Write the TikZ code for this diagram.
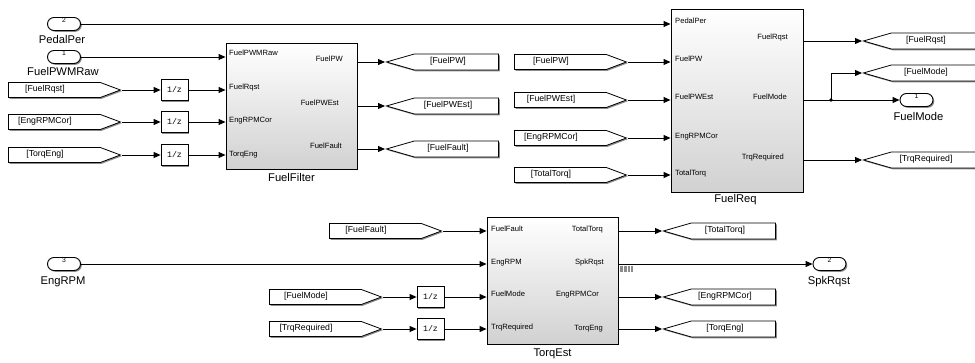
\documentclass[tikz,border=0pt]{standalone}
\usepackage{fontspec}
\setmainfont{Liberation Sans}
\newfontfamily\monofnt{Liberation Mono}
\usetikzlibrary{arrows.meta,shapes.symbols,shadows}
\begin{document}
\begin{tikzpicture}[x=1pt,y=-1pt,
  wire/.style={line width=0.9pt},
  arr/.style={line width=0.9pt, -{Triangle[length=7pt,width=6pt]}},
  shad/.style={drop shadow={shadow xshift=1.3pt,shadow yshift=-1.3pt,opacity=0.6,fill=black!75}},
  inport/.style={draw, line width=0.9pt, fill=white, rounded corners=6.5pt, minimum width=33pt, minimum height=13pt, inner sep=0pt, shad},
  fromblk/.style={signal, signal to=east, signal pointer angle=41, draw, line width=0.8pt, fill=white, minimum width=112pt, minimum height=15pt, inner sep=0pt, shad},
  gotoblk/.style={signal, signal to=west, signal pointer angle=32, draw, line width=0.8pt, fill=white, minimum width=112pt, minimum height=16pt, inner sep=0pt, shad},
  delayblk/.style={draw, line width=0.8pt, fill=white, minimum width=27pt, minimum height=21pt, inner sep=0pt, font=\monofnt\fontsize{8.3}{9}\selectfont, shad},
  subsys/.style={draw, line width=0.9pt, top color=white, bottom color=black!18, inner sep=0pt, shad},
  ptxt/.style={font=\fontsize{7.6}{8}\selectfont, inner sep=0pt, text height=5.4pt, text depth=0pt},
  gtxt/.style={font=\fontsize{8.7}{9}\selectfont, inner sep=0pt, text height=6.2pt, text depth=0pt},
  btxt/.style={font=\fontsize{11.2}{12}\selectfont, inner sep=0pt, text height=8pt, text depth=0pt},
  ntxt/.style={font=\fontsize{6.8}{7}\selectfont, inner sep=0pt, text height=4.9pt, text depth=0pt},
]
\useasboundingbox (0,0) rectangle (975,363);
\clip (0,0) rectangle (975,363);

% ---------- inports / outports
\node[inport] (inPedal) at (64,24) {};
\node[ntxt] (inPedal-n) at (64,20.5) {2};
\node[btxt] (inPedal-l) at (62,39.5) {PedalPer};
\node[inport] (inFPWM) at (64,57) {};
\node[ntxt] (inFPWM-n) at (64,53.5) {1};
\node[btxt] (inFPWM-l) at (63,72) {FuelPWMRaw};
\node[inport] (inEng) at (64,264) {};
\node[ntxt] (inEng-n) at (64,260.5) {3};
\node[btxt] (inEng-l) at (63,280.5) {EngRPM};

\node[inport] (outFM) at (916.5,100) {};
\node[ntxt] (outFM-n) at (916.5,96.5) {1};
\node[btxt] (outFM-l) at (918.5,117) {FuelMode};
\node[inport] (outSpk) at (829.5,264) {};
\node[ntxt] (outSpk-n) at (829.5,260.5) {2};
\node[btxt] (outSpk-l) at (829,281) {SpkRqst};

% ---------- from blocks
\node[fromblk, anchor=west] (fFuelRqst) at (8,90) {};
\node[gtxt] (fFuelRqst-t) at (45,88.5) {[FuelRqst]};
\node[fromblk, anchor=west] (fEngRPMCor1) at (8,122) {};
\node[gtxt] (fEngRPMCor1-t) at (45,120.5) {[EngRPMCor]};
\node[fromblk, anchor=west] (fTorqEng) at (8,155) {};
\node[gtxt] (fTorqEng-t) at (45,153.5) {[TorqEng]};
\node[fromblk, anchor=west] (fFuelPW) at (514,62) {};
\node[gtxt] (fFuelPW-t) at (551,60.5) {[FuelPW]};
\node[fromblk, anchor=west] (fFuelPWEst) at (514,100) {};
\node[gtxt] (fFuelPWEst-t) at (551,98.5) {[FuelPWEst]};
\node[fromblk, anchor=west] (fEngRPMCor2) at (514,138) {};
\node[gtxt] (fEngRPMCor2-t) at (551,136.5) {[EngRPMCor]};
\node[fromblk, anchor=west] (fTotalTorq) at (514,175) {};
\node[gtxt] (fTotalTorq-t) at (551,173.5) {[TotalTorq]};
\node[fromblk, anchor=west] (fFuelFault) at (329,231) {};
\node[gtxt] (fFuelFault-t) at (366,229.5) {[FuelFault]};
\node[fromblk, anchor=west] (fFuelMode) at (269,297) {};
\node[gtxt] (fFuelMode-t) at (306,295.5) {[FuelMode]};
\node[fromblk, anchor=west] (fTrqRequired) at (269,329) {};
\node[gtxt] (fTrqRequired-t) at (306,327.5) {[TrqRequired]};

% ---------- unit delays
\node[delayblk] (d1) at (174.5,90) {1/z};
\node[delayblk] (d2) at (174.5,122) {1/z};
\node[delayblk] (d3) at (174.5,155) {1/z};
\node[delayblk] (d4) at (430.5,297) {1/z};
\node[delayblk] (d5) at (430.5,329) {1/z};

% ---------- goto blocks
\node[gotoblk, anchor=west] (gFuelPW) at (385,62) {};
\node[gtxt] (gFuelPW-t) at (448,60.5) {[FuelPW]};
\node[gotoblk, anchor=west] (gFuelPWEst) at (385,106) {};
\node[gtxt] (gFuelPWEst-t) at (448,104.5) {[FuelPWEst]};
\node[gotoblk, anchor=west] (gFuelFault) at (385,149) {};
\node[gtxt] (gFuelFault-t) at (448,147.5) {[FuelFault]};
\node[gotoblk, anchor=west] (gFuelRqst) at (862,41) {};
\node[gtxt] (gFuelRqst-t) at (926,39.5) {[FuelRqst]};
\node[gotoblk, anchor=west] (gFuelMode) at (862,73) {};
\node[gtxt] (gFuelMode-t) at (926,71.5) {[FuelMode]};
\node[gotoblk, anchor=west] (gTrqRequired) at (862,160) {};
\node[gtxt] (gTrqRequired-t) at (926,158.5) {[TrqRequired]};
\node[gotoblk, anchor=west] (gTotalTorq) at (662,231) {};
\node[gtxt] (gTotalTorq-t) at (725,229.5) {[TotalTorq]};
\node[gotoblk, anchor=west] (gEngRPMCor) at (662,297) {};
\node[gtxt] (gEngRPMCor-t) at (725,295.5) {[EngRPMCor]};
\node[gotoblk, anchor=west] (gTorqEng) at (662,329) {};
\node[gtxt] (gTorqEng-t) at (725,327.5) {[TorqEng]};

% ---------- subsystems
\node[subsys, minimum width=131pt, minimum height=126pt] (ff) at (291.5,106) {};
\node[btxt] (ff-l) at (291.5,178) {FuelFilter};
\node[ptxt, anchor=west] (ff-i1) at (229,53) {FuelPWMRaw};
\node[ptxt, anchor=west] (ff-i2) at (229,86.5) {FuelRqst};
\node[ptxt, anchor=west] (ff-i3) at (229,120) {EngRPMCor};
\node[ptxt, anchor=west] (ff-i4) at (229,154) {TorqEng};
\node[ptxt, anchor=east] (ff-o1) at (343,59) {FuelPW};
\node[ptxt, anchor=east] (ff-o2) at (339,103) {FuelPWEst};
\node[ptxt, anchor=east] (ff-o3) at (342,146) {FuelFault};

\node[subsys, minimum width=132pt, minimum height=183pt] (fr) at (737,100.5) {};
\node[btxt] (fr-l) at (735.5,199) {FuelReq};
\node[ptxt, anchor=west] (fr-i1) at (675,21) {PedalPer};
\node[ptxt, anchor=west] (fr-i2) at (675,59) {FuelPW};
\node[ptxt, anchor=west] (fr-i3) at (675,97) {FuelPWEst};
\node[ptxt, anchor=west] (fr-i4) at (675,136) {EngRPMCor};
\node[ptxt, anchor=west] (fr-i5) at (675,173) {TotalTorq};
\node[ptxt, anchor=east] (fr-o1) at (788,37) {FuelRqst};
\node[ptxt, anchor=east] (fr-o2) at (787,97) {FuelMode};
\node[ptxt, anchor=east] (fr-o3) at (784,157) {TrqRequired};

\node[subsys, minimum width=131pt, minimum height=127pt] (te) at (552.5,280.5) {};
\node[btxt] (te-l) at (552.5,352.5) {TorqEst};
\node[ptxt, anchor=west] (te-i1) at (491,228.5) {FuelFault};
\node[ptxt, anchor=west] (te-i2) at (491,262) {EngRPM};
\node[ptxt, anchor=west] (te-i3) at (491,293.5) {FuelMode};
\node[ptxt, anchor=west] (te-i4) at (491,327) {TrqRequired};
\node[ptxt, anchor=east] (te-o1) at (603,228.5) {TotalTorq};
\node[ptxt, anchor=east] (te-o2) at (604,262) {SpkRqst};
\node[ptxt, anchor=east] (te-o3) at (599,294) {EngRPMCor};
\node[ptxt, anchor=east] (te-o4) at (603,328) {TorqEng};

% ---------- junction
\node[circle, fill=black, inner sep=0pt, minimum size=3.6pt] (jn) at (831,100) {};

% ---------- connectors
\draw[arr] (inPedal.east) -- (fr.west |- inPedal.east);
\draw[arr] (inFPWM.east) -- (ff.west |- inFPWM.east);
\draw[arr] (fFuelRqst.east) -- (d1.west);
\draw[arr] (d1.east) -- (ff.west |- d1.east);
\draw[arr] (fEngRPMCor1.east) -- (d2.west);
\draw[arr] (d2.east) -- (ff.west |- d2.east);
\draw[arr] (fTorqEng.east) -- (d3.west);
\draw[arr] (d3.east) -- (ff.west |- d3.east);

\draw[arr] (ff.east |- gFuelPW.west) -- (gFuelPW.west);
\draw[arr] (ff.east |- gFuelPWEst.west) -- (gFuelPWEst.west);
\draw[arr] (ff.east |- gFuelFault.west) -- (gFuelFault.west);

\draw[arr] (fFuelPW.east) -- (fr.west |- fFuelPW.east);
\draw[arr] (fFuelPWEst.east) -- (fr.west |- fFuelPWEst.east);
\draw[arr] (fEngRPMCor2.east) -- (fr.west |- fEngRPMCor2.east);
\draw[arr] (fTotalTorq.east) -- (fr.west |- fTotalTorq.east);

\draw[arr] (fr.east |- gFuelRqst.west) -- (gFuelRqst.west);
\draw[wire] (fr.east |- jn) -- (jn.center);
\draw[arr] (jn.center) -- (outFM.west);
\draw[arr] (jn.center) |- (gFuelMode.west);
\draw[arr] (fr.east |- gTrqRequired.west) -- (gTrqRequired.west);

\draw[arr] (fFuelFault.east) -- (te.west |- fFuelFault.east);
\draw[arr] (inEng.east) -- (te.west |- inEng.east);
\draw[arr] (fFuelMode.east) -- (d4.west);
\draw[arr] (d4.east) -- (te.west |- d4.east);
\draw[arr] (fTrqRequired.east) -- (d5.west);
\draw[arr] (d5.east) -- (te.west |- d5.east);

\draw[arr] (te.east |- gTotalTorq.west) -- (gTotalTorq.west);
\draw[arr] (te.east |- outSpk.west) -- (outSpk.west);
\draw[arr] (te.east |- gEngRPMCor.west) -- (gEngRPMCor.west);
\draw[arr] (te.east |- gTorqEng.west) -- (gTorqEng.west);

% ---------- signal dimension marker
\fill[black!45] (620,266) rectangle (633,272.5);
\draw[white, line width=0.7pt] (623.5,266) -- (623.5,272.5) (627,266) -- (627,272.5) (630.5,266) -- (630.5,272.5);
\end{tikzpicture}
\end{document}
